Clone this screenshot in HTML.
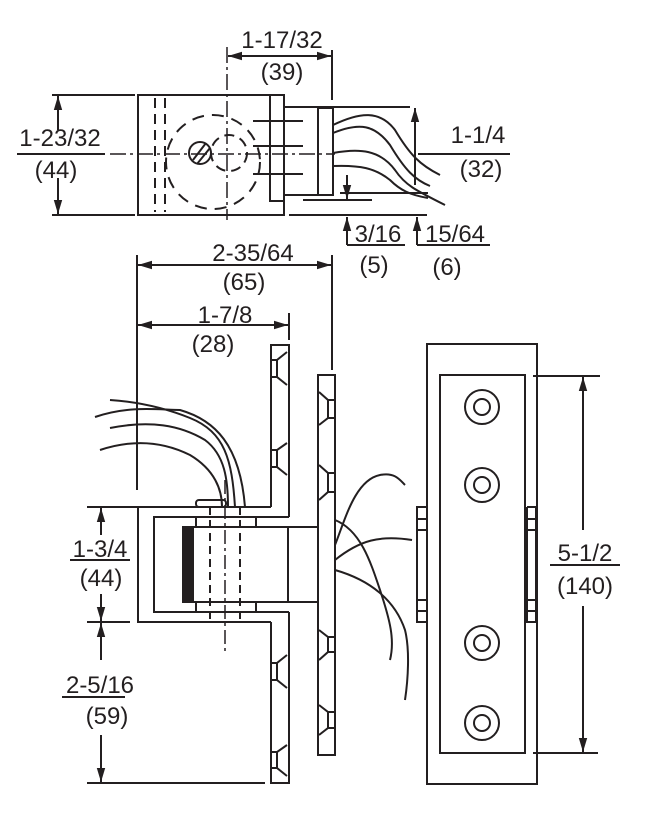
<!DOCTYPE html>
<html><head><meta charset="utf-8"><style>
html,body{margin:0;padding:0;background:#fff;}
svg{display:block;}
text{font-family:"Liberation Sans",Arial,sans-serif;font-size:24px;fill:#231f20;text-anchor:middle;}
</style></head><body>
<svg width="652" height="822" viewBox="0 0 652 822" xmlns="http://www.w3.org/2000/svg">
<defs>
<marker id="a" viewBox="0 0 10 10" refX="10" refY="5" markerWidth="7" markerHeight="7" orient="auto-start-reverse"><path d="M0,2 L10,5 L0,8 z" fill="#231f20"/></marker>
</defs>
<g stroke="#231f20" stroke-width="2" fill="none">
<!-- TOP VIEW -->
<rect x="138" y="95" width="146" height="120"/>
<rect x="270" y="95" width="14" height="106"/>
<line x1="284" y1="107" x2="410" y2="107"/>
<line x1="284" y1="195" x2="333" y2="195"/>
<rect x="318" y="108" width="15" height="87"/>
<line x1="253" y1="121" x2="303" y2="121"/><line x1="253" y1="146" x2="303" y2="146"/><line x1="253" y1="174" x2="303" y2="174"/>
<line x1="155" y1="98" x2="155" y2="212" stroke-dasharray="10,6"/>
<line x1="165" y1="98" x2="165" y2="212" stroke-dasharray="10,6"/>
<circle cx="213" cy="162" r="47" stroke-dasharray="12,8"/>
<circle cx="229" cy="153" r="18" stroke-dasharray="10,6"/>
<circle cx="200" cy="153" r="11"/>
<line x1="193" y1="160" x2="206" y2="143"/><line x1="197" y1="164" x2="210" y2="148"/>
<line x1="110" y1="154" x2="335" y2="154" stroke-width="1.5" stroke-dasharray="16,4,3,4"/>
<line x1="227" y1="47" x2="227" y2="220" stroke-width="1.5" stroke-dasharray="16,4,3,4"/>
<path d="M333,125 C360,112 380,110 395,130 C410,155 420,165 440,175"/>
<path d="M333,133 C360,122 375,125 390,145 C405,170 415,180 430,186"/>
<path d="M333,153 C360,148 380,150 395,170 C405,185 415,190 445,205"/>
<path d="M333,166 C360,165 375,168 390,180 C400,190 410,195 428,198"/>
<!-- top dims -->
<line x1="228" y1="56" x2="331" y2="56" marker-start="url(#a)" marker-end="url(#a)"/>
<line x1="332" y1="50" x2="332" y2="100"/>
<line x1="52" y1="95" x2="135" y2="95"/><line x1="52" y1="215" x2="135" y2="215"/>
<line x1="58" y1="130" x2="58" y2="96" marker-end="url(#a)"/>
<line x1="58" y1="178" x2="58" y2="214" marker-end="url(#a)"/>
<line x1="17" y1="154" x2="105" y2="154"/>
<line x1="415" y1="185" x2="415" y2="108" marker-end="url(#a)"/>
<line x1="418" y1="154" x2="510" y2="154"/>
<line x1="340" y1="193" x2="428" y2="193"/>
<line x1="303" y1="200" x2="372" y2="200"/>
<line x1="347" y1="175" x2="347" y2="199" marker-end="url(#a)"/>
<line x1="347" y1="245" x2="347" y2="217" marker-end="url(#a)"/>
<line x1="347" y1="245" x2="405" y2="245"/>
<line x1="289" y1="215" x2="427" y2="215"/>
<line x1="417" y1="245" x2="417" y2="217" marker-end="url(#a)"/>
<line x1="417" y1="245" x2="490" y2="245"/>
<!-- SIDE VIEW -->
<line x1="137" y1="255" x2="137" y2="490"/>
<line x1="332" y1="255" x2="332" y2="370"/>
<line x1="138" y1="265" x2="331" y2="265" marker-start="url(#a)" marker-end="url(#a)"/>
<line x1="289" y1="313" x2="289" y2="340"/>
<line x1="138" y1="325" x2="288" y2="325" marker-start="url(#a)" marker-end="url(#a)"/>
<path d="M271,507 V345 H289 V517"/>
<path d="M271,622 V783 H289 V612"/>
<path d="M271,507 H138 V622 H271"/>
<path d="M289,517 H154 V612 H289"/>
<rect x="318" y="375" width="17" height="380"/>
<rect x="183" y="527" width="10" height="75" fill="#231f20"/>
<rect x="193" y="527" width="125" height="75"/>
<line x1="288" y1="527" x2="288" y2="602"/>
<rect x="196" y="517" width="60" height="10"/><rect x="196" y="602" width="60" height="10"/>
<line x1="210" y1="507" x2="210" y2="622" stroke-dasharray="8,5"/>
<line x1="240" y1="507" x2="240" y2="622" stroke-dasharray="8,5"/>
<line x1="225" y1="480" x2="225" y2="655" stroke-width="1.5" stroke-dasharray="14,4,3,4"/>
<rect x="196" y="500" width="30" height="7" rx="3"/>
<path d="M287,352 L277,360 V377 L287,385 M272,360 H277 M272,377 H277"/>
<path d="M287,443 L277,450 V467 L287,475 M272,450 H277 M272,467 H277"/>
<path d="M287,655 L277,663 V680 L287,688 M272,663 H277 M272,680 H277"/>
<path d="M287,745 L277,752 V768 L287,776 M272,752 H277 M272,768 H277"/>
<path d="M319,392 L328,400 V418 L319,425 M328,400 H334 M328,418 H334"/>
<path d="M319,465 L328,473 V492 L319,500 M328,473 H334 M328,492 H334"/>
<path d="M319,630 L328,637 V652 L319,660 M328,637 H334 M328,652 H334"/>
<path d="M319,705 L328,712 V728 L319,735 M328,712 H334 M328,728 H334"/>
<path d="M95,417 C130,405 160,410 180,410 C215,420 240,445 245,507"/>
<path d="M110,400 C140,402 165,408 190,418 C225,432 232,460 235,507"/>
<path d="M110,428 C150,420 180,425 205,440 C225,455 228,480 228,507"/>
<path d="M100,450 C130,440 160,440 190,455 C215,470 222,490 222,507"/>
<path d="M335,545 C345,520 355,480 380,475 C395,472 400,480 405,485"/>
<path d="M335,520 C360,530 370,560 380,590 C390,620 395,640 390,660"/>
<path d="M335,560 C360,540 380,535 412,540"/>
<path d="M335,570 C370,580 395,600 405,630 C410,650 408,680 405,700"/>
<line x1="87" y1="507" x2="190" y2="507"/>
<line x1="87" y1="622" x2="130" y2="622"/>
<line x1="87" y1="783" x2="265" y2="783"/>
<line x1="101" y1="535" x2="101" y2="508" marker-end="url(#a)"/>
<line x1="101" y1="594" x2="101" y2="621" marker-end="url(#a)"/>
<line x1="101" y1="660" x2="101" y2="623" marker-end="url(#a)"/>
<line x1="101" y1="735" x2="101" y2="782" marker-end="url(#a)"/>
<line x1="70" y1="560" x2="130" y2="560"/>
<line x1="62" y1="697" x2="125" y2="697"/>
<!-- FRONT VIEW -->
<rect x="427" y="344" width="110" height="440"/>
<rect x="440" y="375" width="85" height="378"/>
<circle cx="482" cy="407" r="17"/><circle cx="482" cy="407" r="8"/>
<circle cx="482" cy="485" r="17"/><circle cx="482" cy="485" r="8"/>
<circle cx="482" cy="643" r="17"/><circle cx="482" cy="643" r="8"/>
<circle cx="482" cy="723" r="17"/><circle cx="482" cy="723" r="8"/>
<path d="M427,507 H417 V622 H427 M417,519 H427 M417,530 H427 M417,600 H427 M417,611 H427"/>
<path d="M527,507 H536 V622 H527 V507 M527,519 H536 M527,530 H536 M527,600 H536 M527,611 H536"/>
<line x1="533" y1="376" x2="600" y2="376"/>
<line x1="533" y1="753" x2="598" y2="753"/>
<line x1="583" y1="530" x2="583" y2="377" marker-end="url(#a)"/>
<line x1="583" y1="606" x2="583" y2="752" marker-end="url(#a)"/>
<line x1="550" y1="565" x2="620" y2="565"/>
</g>
<text x="282" y="48">1-17/32</text>
<text x="282" y="80">(39)</text>
<text x="60" y="146">1-23/32</text>
<text x="56" y="178">(44)</text>
<text x="478" y="143">1-1/4</text>
<text x="481" y="177">(32)</text>
<text x="378" y="242">3/16</text>
<text x="374" y="273">(5)</text>
<text x="455" y="242">15/64</text>
<text x="447" y="275">(6)</text>
<text x="253" y="261">2-35/64</text>
<text x="244" y="290">(65)</text>
<text x="225" y="323">1-7/8</text>
<text x="213" y="352">(28)</text>
<text x="100" y="557">1-3/4</text>
<text x="101" y="586">(44)</text>
<text x="100" y="693">2-5/16</text>
<text x="107" y="724">(59)</text>
<text x="585" y="561">5-1/2</text>
<text x="585" y="594">(140)</text>
</svg>
</body></html>
